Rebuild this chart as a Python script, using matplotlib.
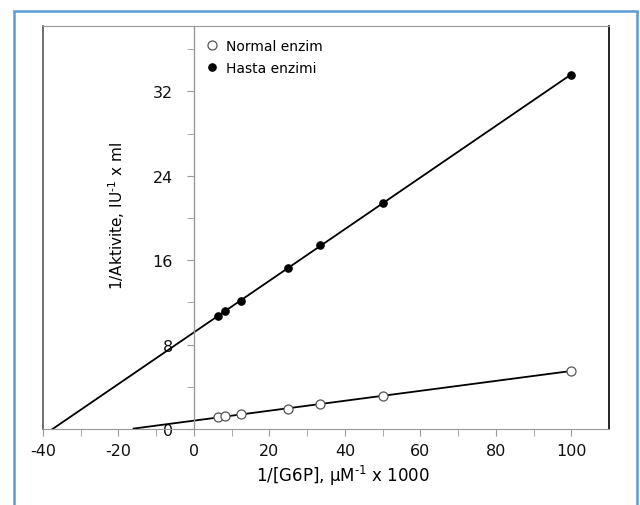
import numpy as np
import matplotlib
matplotlib.use("Agg")
import matplotlib.pyplot as plt
from matplotlib.patches import Rectangle

plt.rcParams['font.family'] = ['DejaVu Sans']
plt.rcParams['axes.unicode_minus'] = False
plt.rcParams['mathtext.default'] = 'regular'

# Lineweaver-Burk data: 1/[G6P] (uM^-1 x 1000) vs 1/activity
inv_s = [6.25, 8.33, 12.5, 25, 33.3, 50, 100]
normal = [1.10, 1.23, 1.39, 1.89, 2.37, 3.13, 5.52]
hasta = [10.73, 11.2, 12.12, 15.25, 17.4, 21.4, 33.6]

# how far back each trendline is extended
normal_back = -16
hasta_back = -38

x_ticks = [-40, -20, 0, 20, 40, 60, 80, 100]
y_ticks = [0, 8, 16, 24, 32]

fig = plt.figure(figsize=(6.4, 5.06), dpi=100)
ax = fig.add_axes([0.0672, 0.1502, 0.8844, 0.7964])

# trendlines
for ys, x0 in [(normal, normal_back), (hasta, hasta_back)]:
    k, b = np.polyfit(inv_s, ys, 1)
    xx = np.array([x0, 100])
    ax.plot(xx, k * xx + b, color='black', lw=1.3, zorder=2)

ax.plot(inv_s, normal, 'o', ms=6.5, mfc='white', mec='#555555', mew=0.9,
        zorder=3, label='Normal enzim')
ax.plot(inv_s, hasta, 'o', ms=5.2, mfc='black', mec='black', zorder=3,
        label='Hasta enzimi')

ax.set_xlim(-40, 110)
ax.set_ylim(0, 38.2)

# y axis crosses at x = 0, plot area drawn as a frame
ax.spines['left'].set_position(('data', 0))
ax.spines['left'].set_color('#999999')
ax.spines['left'].set_linewidth(1.0)
ax.spines['bottom'].set_color('#999999')
ax.spines['top'].set_color('#999999')
ax.spines['right'].set_color('black')
ax.spines['right'].set_linewidth(1.2)
ax.plot([0, 0], [0, 1], transform=ax.transAxes, color='#555555', lw=1.2,
        clip_on=False, zorder=1)

ax.set_xticks(x_ticks)
ax.set_xticks(np.arange(-30, 110, 20), minor=True)
ax.set_yticks(y_ticks)
ax.set_yticks(np.arange(4, 38, 8), minor=True)
ax.tick_params(axis='both', which='both', color='#999999', length=5,
               direction='out', labelsize=11.5, colors='#999999',
               labelcolor='#111111')
ax.tick_params(axis='x', pad=5)
ax.tick_params(axis='y', pad=10)

ax.set_xlabel('1/[G6P], μM$^{\\text{-}1}$ x 1000', fontsize=12)
ax.xaxis.set_label_coords(0.53, -0.085)
ax.set_ylabel('1/Aktivite, IU$^{\\text{-}1}$ x ml', fontsize=11)
ax.yaxis.set_label_coords(0.148, 0.53)

ax.legend(loc='upper left', bbox_to_anchor=(0.27, 0.993), frameon=False,
          fontsize=10, handlelength=1.0, handletextpad=0.5,
          labelspacing=0.6, borderaxespad=0.3)

# outer border
fig.patches.append(Rectangle((14 / 640, -0.05), (637 - 14) / 640, 1.05 - 12 / 506,
                             transform=fig.transFigure, fill=False,
                             edgecolor='#5b9bd5', lw=1.8))

fig.savefig('out.png', dpi=100)
